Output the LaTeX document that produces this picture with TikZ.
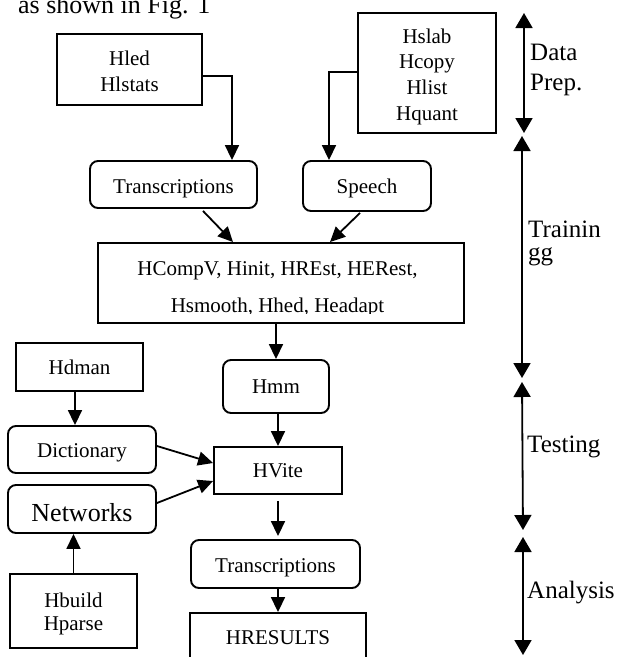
\documentclass[tikz,border=0pt]{standalone}
\usepackage{fontspec}
\setmainfont{Liberation Serif}
\usetikzlibrary{arrows.meta}
\begin{document}
\begin{tikzpicture}[x=1pt,y=-1pt,
  box/.style={draw, line width=1.9pt, font=\fontsize{21}{26}\selectfont, align=center, inner sep=0pt},
  rbox/.style={box, rounded corners=8pt},
  arr/.style={line width=1.8pt, -{Triangle[length=15pt,width=14pt]}},
  side/.style={line width=1.8pt, {Triangle[length=15pt,width=17pt]}-{Triangle[length=15pt,width=17pt]}},
  lab/.style={anchor=base west, inner sep=0pt, font=\fontsize{25}{30}\selectfont},
  txt/.style={anchor=base, inner sep=0pt, font=\fontsize{21}{26}\selectfont}]
\useasboundingbox (0,0) rectangle (620,657);
\clip (0,0) rectangle (620,657);

\node[anchor=base west, inner sep=0pt, font=\fontsize{26}{30}\selectfont] (fig) at (18,13.3) {as shown in Fig. 1};

\node[box, minimum width=145pt, minimum height=71pt, text height=0pt, text depth=9pt] (hled) at (129.5,69.5)
  {\begin{tabular}[t]{@{}c@{}}Hled\\Hlstats\end{tabular}};
\node[box, minimum width=138pt, minimum height=120pt, font=\fontsize{21}{25.7}\selectfont, text height=0pt, text depth=60pt] (hslab) at (427,73)
  {\begin{tabular}[t]{@{}c@{}}Hslab\\Hcopy\\Hlist\\Hquant\end{tabular}};
\node[rbox, minimum width=167pt, minimum height=47pt, text height=17pt, text depth=0pt] (trans1) at (173.5,184.5) {Transcriptions};
\node[rbox, minimum width=128pt, minimum height=50pt, text height=15pt, text depth=0pt] (speech) at (367,186) {Speech};
\node[box, minimum width=366pt, minimum height=80pt] (train) at (281,283) {};
\begin{scope}
  \clip (train.north west) rectangle ([yshift=10.5pt]train.south east);
  \node[txt] (trainA) at (277.5,275) {HCompV, Hinit, HREst, HERest,};
  \node[txt] (trainB) at (277.5,312) {Hsmooth, Hhed, Headapt};
\end{scope}
\node[rbox, minimum width=106pt, minimum height=53pt] (hmm) at (276,386.5) {Hmm};
\node[box, minimum width=128pt, minimum height=47pt] (hvite) at (278,470.5) {HVite};
\node[box, minimum width=127pt, minimum height=48pt] (hdman) at (79.5,367) {Hdman};
\node[rbox, minimum width=148pt, minimum height=47pt, text height=16pt, text depth=0pt] (dict) at (82,449.5) {Dictionary};
\node[rbox, minimum width=148pt, minimum height=48pt, font=\fontsize{26}{30}\selectfont, text height=25pt, text depth=0pt] (netw) at (82,509) {Networks};
\node[box, minimum width=127pt, minimum height=74pt, font=\fontsize{21}{23.5}\selectfont, text height=0pt, text depth=8pt] (hbuild) at (73.5,611)
  {\begin{tabular}[t]{@{}c@{}}Hbuild\\Hparse\end{tabular}};
\node[rbox, minimum width=169pt, minimum height=48pt, text height=17pt, text depth=0pt] (trans2) at (275.5,564) {Transcriptions};
\node[box, minimum width=176pt, minimum height=50pt] (hres) at (278,638) {HRESULTS};

% connectors
\draw[arr] ([yshift=-6.5pt]hled.east) -| ([xshift=58.5pt]trans1.north);
\draw[arr] ([yshift=1pt]hslab.west) -| ([xshift=-38pt]speech.north);
\draw[arr] ([xshift=29.5pt,yshift=-2pt]trans1.south) -- ([xshift=-48pt]train.north);
\draw[arr] ([xshift=-7pt,yshift=-1pt]speech.south) -- ([xshift=49pt]train.north);
\draw[arr] (hmm.north |- train.south) -- (hmm.north);
\draw[arr] (hvite.north |- hmm.south) -- (hvite.north);
\draw[arr] ([xshift=-4.5pt]hdman.south) -- ([xshift=-7pt]dict.north);
\draw[arr] ([yshift=3.5pt]dict.east) -- ([yshift=7.5pt]hvite.west);
\draw[arr] ([yshift=6pt]netw.east) -- ([yshift=-10.5pt]hvite.west);
\draw[arr] (hbuild.north) -- (netw.south -| hbuild.north);
\draw[arr] ([yshift=-6pt]hvite.south) -- ([yshift=3pt]trans2.north -| hvite.south);
\draw[arr] (hres.north |- trans2.south) -- (hres.north);

% side phases
\coordinate (d1) at (524,13);
\coordinate (d2) at (524,133);
\coordinate (t1) at (522,136);
\coordinate (t2) at (522,378);
\coordinate (s1) at (522,382);
\coordinate (s2) at (523,530);
\coordinate (a1) at (523,537);
\coordinate (a2) at (523,655);
\draw[side] (d1) -- (d2);
\draw[side] (t1) -- (t2);
\draw[side] (s1) -- (s2);
\draw[side] (a1) -- (a2);

\node[lab] (dataA) at (530,60) {Data};
\node[lab] (dataB) at (530,90) {Prep.};
\node[lab] (trA) at (528,237) {Trainin};
\node[lab] (trB) at (528,260) {gg};
\node[lab] (test) at (527,452) {Testing};
\node[lab] (anal) at (527,598) {Analysis};
\end{tikzpicture}
\end{document}
